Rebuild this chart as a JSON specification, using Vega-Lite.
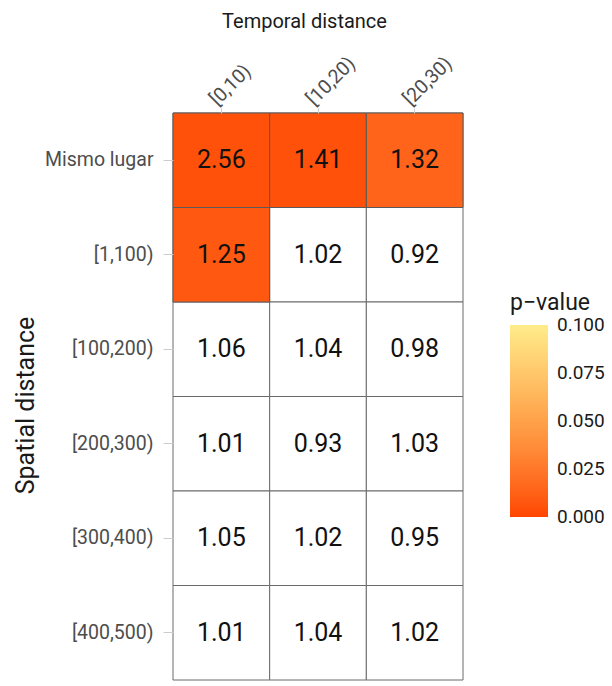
{
  "$schema": "https://vega.github.io/schema/vega-lite/v6.json",
  "autosize": "none",
  "width": 290,
  "height": 567,
  "padding": {"left": 173, "top": 113, "right": 149, "bottom": 6},
  "background": "white",
  "config": {"view": {"stroke": null}, "font": "Roboto"},
  "data": {
    "values": [
      {"s": "Mismo lugar", "t": "[0,10)", "v": 2.56, "p": 0.005},
      {"s": "Mismo lugar", "t": "[10,20)", "v": 1.41, "p": 0.005},
      {"s": "Mismo lugar", "t": "[20,30)", "v": 1.32, "p": 0.014},
      {"s": "[1,100)", "t": "[0,10)", "v": 1.25, "p": 0.008},
      {"s": "[1,100)", "t": "[10,20)", "v": 1.02, "p": null},
      {"s": "[1,100)", "t": "[20,30)", "v": 0.92, "p": null},
      {"s": "[100,200)", "t": "[0,10)", "v": 1.06, "p": null},
      {"s": "[100,200)", "t": "[10,20)", "v": 1.04, "p": null},
      {"s": "[100,200)", "t": "[20,30)", "v": 0.98, "p": null},
      {"s": "[200,300)", "t": "[0,10)", "v": 1.01, "p": null},
      {"s": "[200,300)", "t": "[10,20)", "v": 0.93, "p": null},
      {"s": "[200,300)", "t": "[20,30)", "v": 1.03, "p": null},
      {"s": "[300,400)", "t": "[0,10)", "v": 1.05, "p": null},
      {"s": "[300,400)", "t": "[10,20)", "v": 1.02, "p": null},
      {"s": "[300,400)", "t": "[20,30)", "v": 0.95, "p": null},
      {"s": "[400,500)", "t": "[0,10)", "v": 1.01, "p": null},
      {"s": "[400,500)", "t": "[10,20)", "v": 1.04, "p": null},
      {"s": "[400,500)", "t": "[20,30)", "v": 1.02, "p": null}
    ]
  },
  "encoding": {
    "x": {
      "field": "t", "type": "nominal",
      "sort": ["[0,10)", "[10,20)", "[20,30)"],
      "scale": {"paddingInner": 0, "paddingOuter": 0},
      "axis": {
        "orient": "top", "title": "Temporal distance", "titleFontSize": 20, "titleFontWeight": "normal",
        "titleColor": "#1a1a1a", "titleX": 131, "titleY": -92, "titleBaseline": "middle", "titleAlign": "center",
        "labelAngle": -45, "labelAlign": "left", "labelBaseline": "middle", "labelFontSize": 19.5,
        "labelColor": "#4d4d4d", "labelPadding": 6, "labelOffset": -8,
        "domain": false, "ticks": true, "tickColor": "#cccccc", "tickSize": 5, "grid": false
      }
    },
    "y": {
      "field": "s", "type": "nominal",
      "sort": ["Mismo lugar", "[1,100)", "[100,200)", "[200,300)", "[300,400)", "[400,500)"],
      "scale": {"paddingInner": 0, "paddingOuter": 0},
      "axis": {
        "title": "Spatial distance", "titleFontSize": 25, "titleFontWeight": "normal",
        "titleColor": "#1a1a1a", "titleX": -148, "titleY": 292, "titleBaseline": "middle", "titleAlign": "center", "titleAngle": -90,
        "labelFontSize": 19.5, "labelColor": "#4d4d4d", "labelPadding": 10,
        "domain": false, "ticks": true, "tickColor": "#cccccc", "tickSize": 10, "grid": false
      }
    }
  },
  "layer": [
    {
      "mark": {"type": "rect", "fill": "white", "stroke": "#6a6a6a", "strokeWidth": 1}
    },
    {
      "transform": [{"filter": "datum.p != null"}],
      "mark": {"type": "rect", "stroke": "#5a5a5a", "strokeWidth": 1},
      "encoding": {
        "color": {
          "field": "p", "type": "quantitative",
          "scale": {"domain": [0, 0.1], "range": ["#FF4500", "#FFEC8B"], "interpolate": "lab"},
          "legend": {
            "title": "p−value", "titleFontSize": 23, "titleFontWeight": "normal", "titleColor": "#1a1a1a",
            "orient": "none", "legendX": 337, "legendY": 179,
            "gradientLength": 192, "gradientThickness": 38, "gradientStrokeWidth": 0,
            "values": [0, 0.025, 0.05, 0.075, 0.1], "format": ".3f",
            "labelFontSize": 19, "labelColor": "#1a1a1a", "labelOffset": 9,
            "direction": "vertical", "titlePadding": 10,
            "encode": {"labels": {"update": {"baseline": {"value": "middle"}}}}
          }
        }
      }
    },
    {
      "mark": {"type": "text", "fontSize": 25, "color": "#111111"},
      "encoding": {
        "text": {"field": "v", "type": "quantitative", "format": ".2f"}
      }
    }
  ]
}
